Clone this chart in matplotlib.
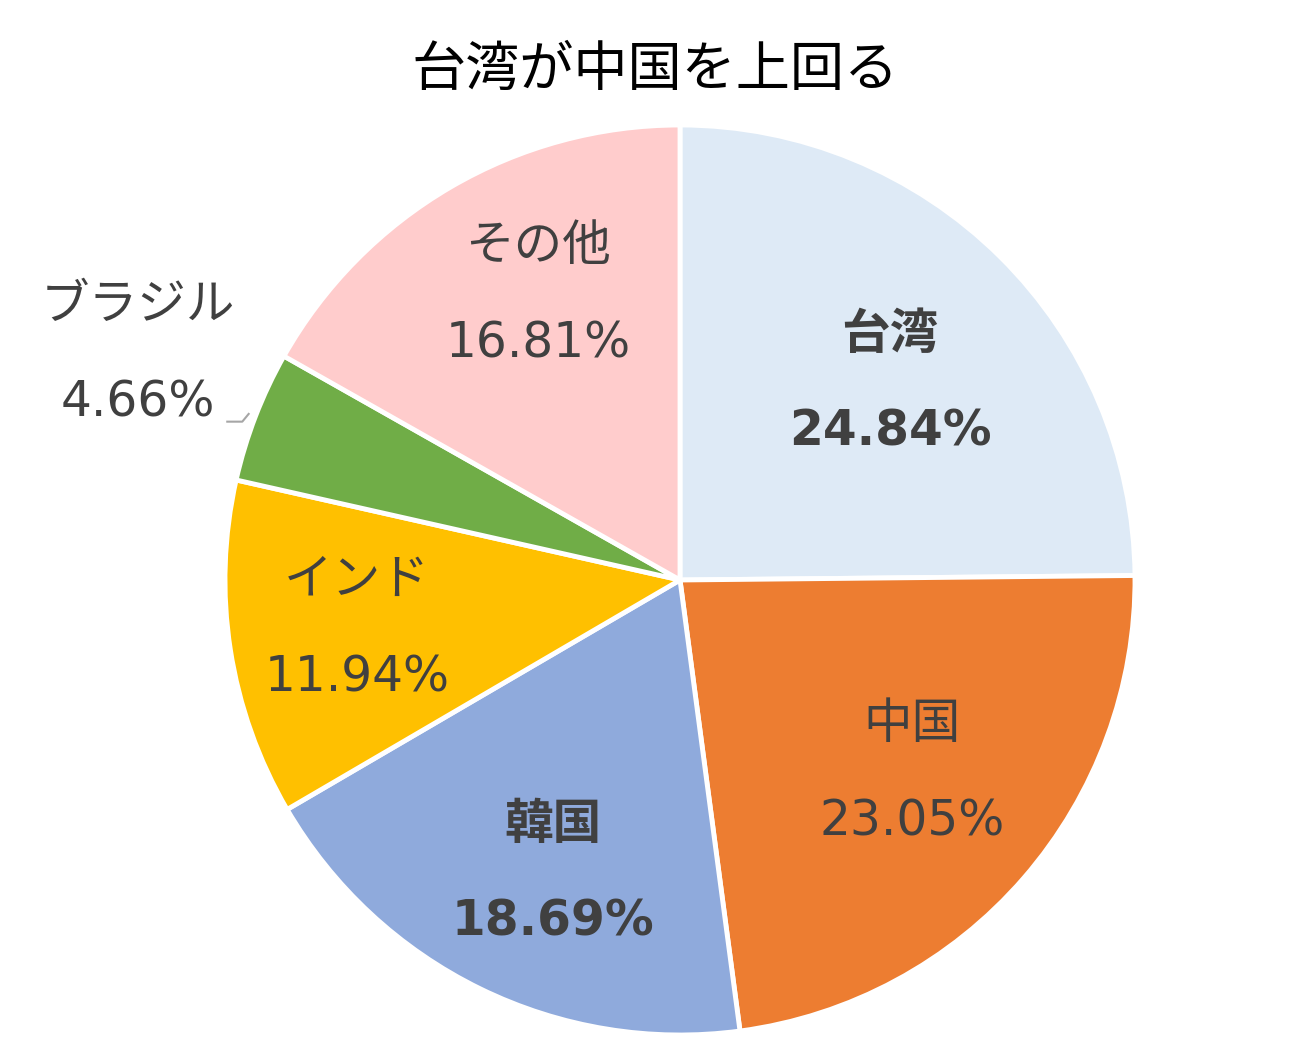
import matplotlib
matplotlib.use("Agg")
import matplotlib.pyplot as plt
import numpy as np

plt.rcParams['font.family'] = ['Noto Sans CJK JP', 'DejaVu Sans']

# データ
labels = ['台湾', '中国', '韓国', 'インド', 'ブラジル', 'その他']
shares = [24.84, 23.05, 18.69, 11.94, 4.66, 16.81]
colors = ['#DEEAF6', '#ED7D31', '#8FAADC', '#FFC000', '#70AD47', '#FFCCCC']
bold = [True, False, True, False, False, False]
title = '台湾が中国を上回る'

W, H = 1310, 1052
fig = plt.figure(figsize=(W / 100, H / 100), dpi=100)
cx, cy, r = 680, 580, 455
ax = fig.add_axes([(cx - r * 1.6) / W, (H - cy - r * 1.6) / H, 3.2 * r / W, 3.2 * r / H])

wedges, _ = ax.pie(shares, colors=colors, startangle=90, counterclock=False,
                   radius=1.0, wedgeprops=dict(edgecolor='white', linewidth=3.5))
ax.set_xlim(-1.6, 1.6)
ax.set_ylim(-1.6, 1.6)
ax.set_aspect('equal')
ax.axis('off')

txt = '#404040'
# ラベル位置: (中心からの距離, 角度の補正)
dists = [0.633, 0.663, 0.702, 0.718, None, 0.70]
dang = [-2.1, 1.1, 2.6, -0.2, 0, -3.8]
for w, name, val, b, d, da in zip(wedges, labels, shares, bold, dists, dang):
    ang = np.deg2rad((w.theta1 + w.theta2) / 2 + da)
    if d is None:
        x, y = -1.191, 0.497
        ax.plot([-0.995, -0.962, -0.948], [0.348, 0.348, 0.365], color='#A6A6A6', lw=1.5)
    else:
        x, y = d * np.cos(ang), d * np.sin(ang)
    fw = 'bold' if b else 'normal'
    ax.text(x, y + 0.107, name, ha='center', va='center', fontsize=35, color=txt, fontweight=fw)
    ax.text(x, y - 0.107, f'{val:.2f}%', ha='center', va='center', fontsize=35, color=txt,
            fontweight=fw, family=['DejaVu Sans'])

fig.text(655 / W, 1 - 70 / H, title, ha='center', va='center', fontsize=39, color='black')

fig.savefig('out.png', dpi=100)
